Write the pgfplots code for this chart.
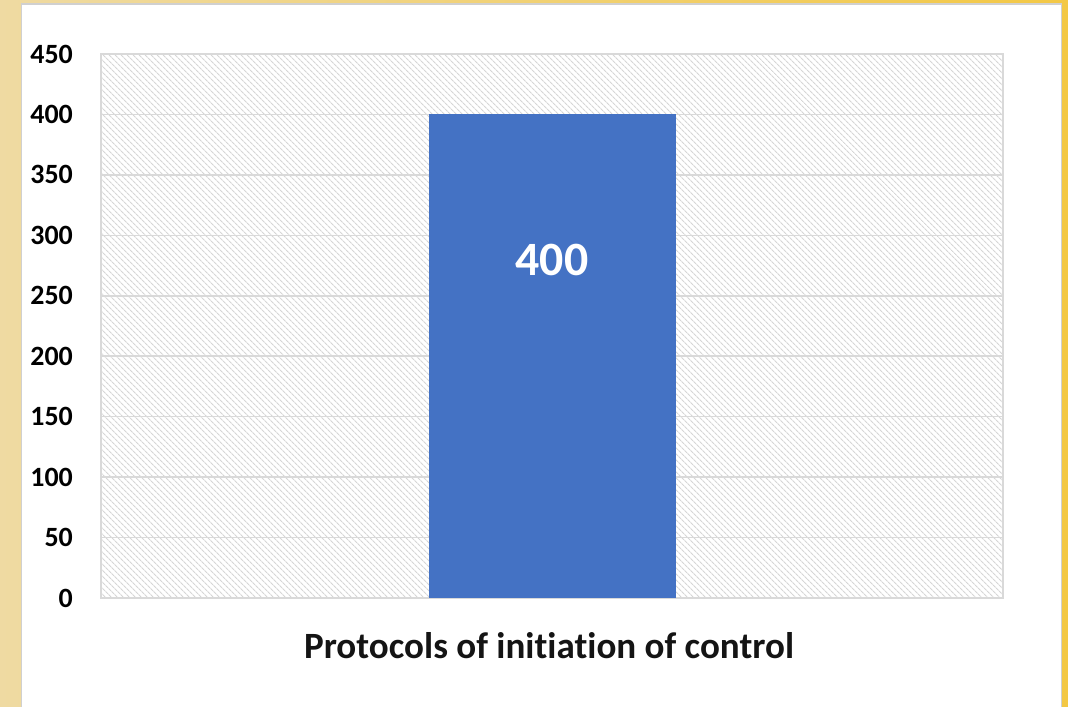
\documentclass[border=0pt]{standalone}
\usepackage{pgfplots}
\pgfplotsset{compat=1.18}
\usetikzlibrary{patterns.meta}
\usepackage{fontspec}
\setmainfont{Carlito}[Ligatures={NoCommon,NoContextual}]
\definecolor{barblue}{HTML}{4472C4}
\definecolor{gridgray}{HTML}{D9D9D9}
\definecolor{hatch}{HTML}{D6D6D6}
\definecolor{tanL}{HTML}{EFDAA2}
\definecolor{yelR}{HTML}{F3C845}
\definecolor{panelborder}{HTML}{D0D0D0}
\begin{document}
\begin{tikzpicture}
\useasboundingbox (0bp,0bp) rectangle (1068bp,707bp);
\shade[left color=tanL, right color=yelR] (0bp,0bp) rectangle (1068bp,707bp);
\filldraw[fill=white, draw=panelborder, line width=1.5bp] (21.5bp,-5bp) rectangle (1061.5bp,703bp);
\begin{axis}[
  at={(101bp,109bp)}, anchor=south west,
  width=902bp, height=544bp, scale only axis,
  ymin=0, ymax=450, ytick={0,50,...,450},
  xmin=-1, xmax=1, xtick=\empty,
  ybar, bar width=247bp,
  ymajorgrids, major grid style={draw=gridgray, line width=1.5bp},
  axis line style={draw=gridgray, line width=1.5bp},
  major tick length=0pt,
  axis background/.style={pattern={Lines[angle=-45,distance=3.9bp,line width=1.1bp]}, pattern color=hatch},
  /pgf/number format/assume math mode=true,
  yticklabel style={font=\fontsize{28}{30}\selectfont\bfseries, inner sep=0pt, xshift=-28bp},
  clip=false,
]
\addplot[fill=barblue, draw=none] coordinates {(0,400)};
\node[font=\fontsize{48}{52}\selectfont\bfseries, text=white] at (axis cs:0,280) {400};
\node[anchor=base, font=\fontsize{37.2}{40}\selectfont\bfseries, text=black!92, xshift=-3bp, yshift=-60bp] at (axis cs:0,0) {Protocols of initiation of control};
\end{axis}
\end{tikzpicture}
\end{document}
